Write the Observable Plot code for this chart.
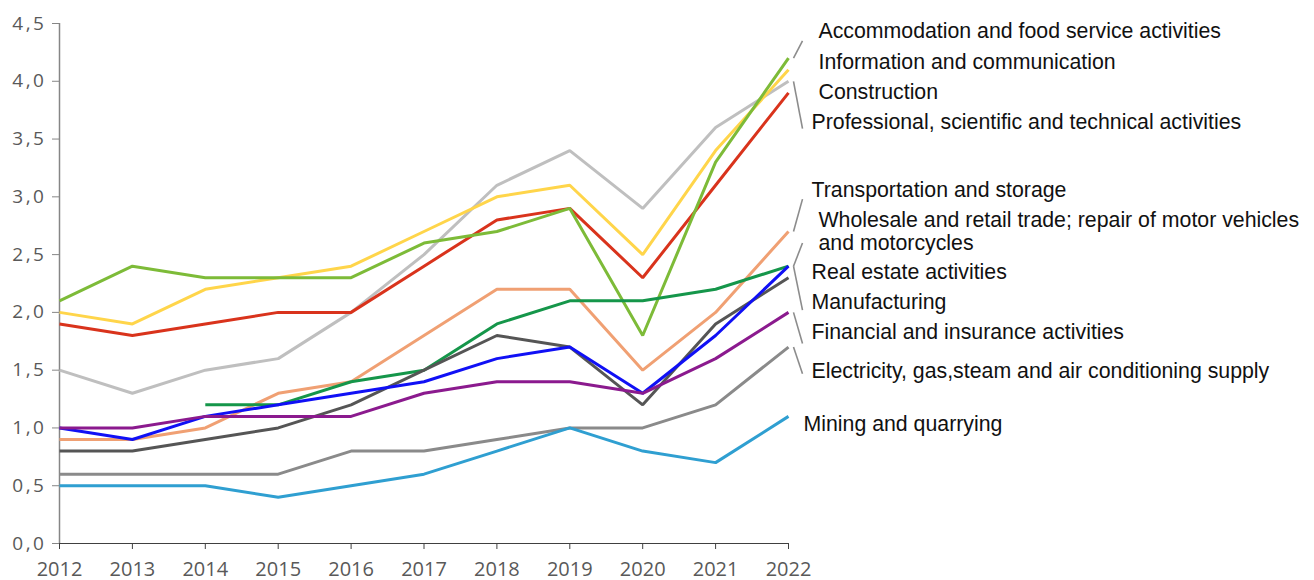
<!DOCTYPE html>
<html>
<head>
<meta charset="utf-8">
<script src="https://cdn.jsdelivr.net/npm/d3@7"></script>
<script src="https://cdn.jsdelivr.net/npm/@observablehq/plot@0.6"></script>
<style>
  html, body { margin: 0; padding: 0; background: #fff; }
  #chart svg { display: block; }
</style>
</head>
<body>
<div id="chart"></div>
<script>
// ---------- data ----------
const years = [2012, 2013, 2014, 2015, 2016, 2017, 2018, 2019, 2020, 2021, 2022];
const yTicks = [0, 0.5, 1, 1.5, 2, 2.5, 3, 3.5, 4, 4.5];

const seriesNames = [
  "Professional, scientific and technical activities",
  "Information and communication",
  "Construction",
  "Accommodation and food service activities",
  "Transportation and storage",
  "Wholesale and retail trade; repair of motor vehicles\nand motorcycles",
  "Real estate activities",
  "Manufacturing",
  "Financial and insurance activities",
  "Electricity, gas,steam and air conditioning supply",
  "Mining and quarrying"
];

const professional   = [1.5, 1.3, 1.5, 1.6, 2.0, 2.5, 3.1, 3.4, 2.9, 3.6, 4.0];
const information    = [2.0, 1.9, 2.2, 2.3, 2.4, 2.7, 3.0, 3.1, 2.5, 3.4, 4.1];
const construction   = [1.9, 1.8, 1.9, 2.0, 2.0, 2.4, 2.8, 2.9, 2.3, 3.1, 3.9];
const accommodation  = [2.1, 2.4, 2.3, 2.3, 2.3, 2.6, 2.7, 2.9, 1.8, 3.3, 4.2];
const transportation = [0.9, 0.9, 1.0, 1.3, 1.4, 1.8, 2.2, 2.2, 1.5, 2.0, 2.7];
const wholesale      = [null, null, 1.2, 1.2, 1.4, 1.5, 1.9, 2.1, 2.1, 2.2, 2.4];
const realEstate     = [0.8, 0.8, 0.9, 1.0, 1.2, 1.5, 1.8, 1.7, 1.2, 1.9, 2.3];
const manufacturing  = [1.0, 0.9, 1.1, 1.2, 1.3, 1.4, 1.6, 1.7, 1.3, 1.8, 2.4];
const financial      = [1.0, 1.0, 1.1, 1.1, 1.1, 1.3, 1.4, 1.4, 1.3, 1.6, 2.0];
const electricity    = [0.6, 0.6, 0.6, 0.6, 0.8, 0.8, 0.9, 1.0, 1.0, 1.2, 1.7];
const mining         = [0.5, 0.5, 0.5, 0.4, 0.5, 0.6, 0.8, 1.0, 0.8, 0.7, 1.1];

const seriesValues = [professional, information, construction, accommodation, transportation,
  wholesale, realEstate, manufacturing, financial, electricity, mining];

// ---------- styles / layout ----------
const seriesColors = ["#bfbfbf", "#ffd54a", "#d9331c", "#7dbb38", "#f0a073",
  "#15964a", "#555555", "#1010f5", "#8b1a8e", "#8a8a8a", "#2f9fd1"];

// label layout: y in value units, horizontal offset in px, optional leader end (value units)
const labelLayout = [
  {y: 3.65, dx: 23, leaderTo: 3.59},
  {y: 4.17, dx: 30, leaderTo: null},
  {y: 3.91, dx: 30, leaderTo: null},
  {y: 4.44, dx: 30, leaderTo: 4.35},
  {y: 3.06, dx: 23, leaderTo: 2.98},
  {y: 2.70, dx: 30, leaderTo: 2.60},
  {y: 2.35, dx: 23, leaderTo: null},
  {y: 2.09, dx: 23, leaderTo: 2.02},
  {y: 1.83, dx: 23, leaderTo: 1.73},
  {y: 1.50, dx: 23, leaderTo: 1.47},
  {y: 1.04, dx: 15, leaderTo: null}
];

// ---------- tables built from the arrays ----------
const long = [];
seriesNames.forEach((name, i) => {
  seriesValues[i].forEach((v, j) => {
    if (v != null) long.push({series: i, name, year: years[j], value: v});
  });
});

const lastYear = years[years.length - 1];
const labels = seriesNames.map((name, i) => ({
  i, name,
  end: seriesValues[i][seriesValues[i].length - 1],
  ...labelLayout[i]
}));
const leaders = labels.filter(d => d.leaderTo != null);

const xScaleWidthPx = 788 - 59;
const pxToYear = px => px * (years[years.length - 1] - years[0]) / xScaleWidthPx;

const plot = Plot.plot({
  width: 1314,
  height: 580,
  marginLeft: 59,
  marginRight: 526,
  marginTop: 23,
  marginBottom: 37,
  style: {background: "#fff", overflow: "visible"},
  x: {domain: [years[0], lastYear], axis: null},
  y: {domain: [0, 4.5], axis: null},
  color: {domain: d3.range(seriesNames.length), range: seriesColors},
  marks: [
    // y axis
    Plot.ruleX([years[0]], {stroke: "#868686", strokeWidth: 1.5}),
    Plot.axisY({
      ticks: yTicks, tickSize: 7, tickPadding: 6, stroke: "#868686",
      tickFormat: d => d.toFixed(1).replace(".", ","),
      fontSize: 19, fill: "#595959",
      fontFamily: "Open Sans", label: null
    }),
    // x axis
    Plot.ruleY([0], {stroke: "#404040", strokeWidth: 1.2}),
    Plot.axisX({
      ticks: years, tickSize: 6, tickPadding: 12, stroke: "#404040",
      tickFormat: d => String(d),
      fontSize: 20, fill: "#595959",
      fontFamily: "Open Sans", label: null
    }),
    // series
    Plot.line(long, {
      x: "year", y: "value", z: "series", stroke: "series",
      strokeWidth: 3, strokeLinejoin: "miter", strokeLinecap: "butt"
    }),
    // leader lines
    Plot.link(leaders, {
      x1: () => lastYear + pxToYear(5),
      y1: "end",
      x2: () => lastYear + pxToYear(14),
      y2: "leaderTo",
      stroke: "#8c8c8c", strokeWidth: 1.6
    }),
    // labels
    Plot.text(labels, {
      x: () => lastYear, y: "y",
      text: "name", textAnchor: "start", lineAnchor: "middle",
      fontSize: 21.3, fill: "#111", fontFamily: "Liberation Sans",
      lineHeight: 1.08
    })
  ]
});

// wider spacing for the y tick labels
plot.querySelectorAll("g[aria-label='y-axis tick label'] text").forEach(t => {
  t.setAttribute("letter-spacing", "2.5");
});

// apply per-label horizontal offsets
const texts = plot.querySelectorAll("g[aria-label='text'] text");
texts.forEach((t, k) => {
  const d = labels[k];
  const cur = t.getAttribute("transform") || "";
  t.setAttribute("transform", cur + ` translate(${d.dx},0)`);
});

document.getElementById("chart").appendChild(plot);
</script>
</body>
</html>
